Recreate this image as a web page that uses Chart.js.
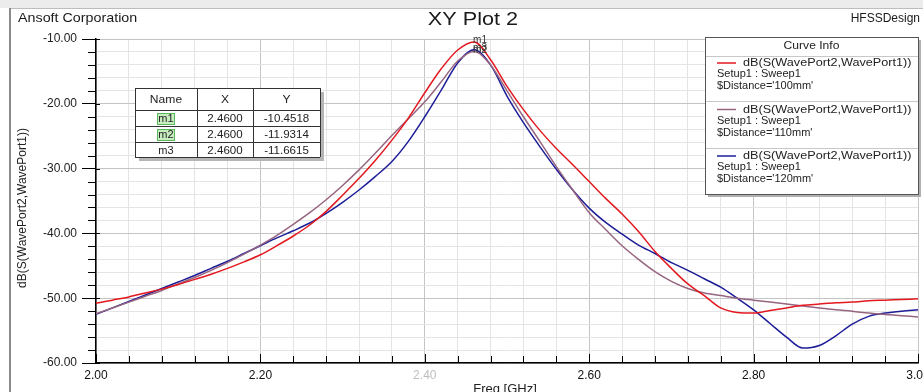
<!DOCTYPE html>
<html>
<head>
<meta charset="utf-8">
<title>XY Plot 2</title>
<script src="https://cdn.jsdelivr.net/npm/chart.js@4.4.1/dist/chart.umd.min.js"></script>
<style>
    html, body { margin: 0; padding: 0; background: #fff; }
    #main-container { position: relative; width: 923px; height: 392px; }
</style>
</head>
<body>
<div id="main-container"><canvas id="xyplot" width="923" height="392"></canvas></div>
<script>
(function () {

    "use strict";

    // Frecuencias (GHz)
    var freq = [2.00, 2.02, 2.04, 2.06, 2.08, 2.10, 2.12, 2.14, 2.16, 2.18,
        2.20, 2.22, 2.24, 2.26, 2.28, 2.30, 2.32, 2.34, 2.36, 2.38,
        2.40, 2.42, 2.44, 2.46, 2.48, 2.50, 2.52, 2.54, 2.56, 2.58,
        2.60, 2.62, 2.64, 2.66, 2.68, 2.70, 2.72, 2.74, 2.76, 2.78,
        2.80, 2.82, 2.84, 2.86, 2.88, 2.90, 2.92, 2.94, 2.96, 2.98, 3.00];

    // dB(S(WavePort2,WavePort1)) para cada distancia
    var s21_100mm = [-50.8, -50.3, -49.8, -49.2, -48.6, -47.9, -47.1, -46.3, -45.4, -44.4,
        -43.3, -41.9, -40.4, -38.7, -36.6, -34.1, -31.5, -28.7, -25.6, -22.2,
        -18.3, -14.6, -11.7, -10.45, -13.2, -17.3, -20.9, -24.1, -26.9, -29.4,
        -32.0, -34.6, -37.0, -39.7, -42.8, -45.4, -47.8, -49.6, -51.5, -52.2,
        -52.3, -51.9, -51.5, -51.1, -50.9, -50.7, -50.6, -50.4, -50.3, -50.2, -50.1];

    var s21_110mm = [-52.4, -51.5, -50.6, -49.7, -48.8, -47.8, -46.8, -45.7, -44.5, -43.2,
        -41.8, -40.3, -38.6, -36.8, -34.8, -32.6, -30.2, -27.6, -24.9, -22.3,
        -19.7, -16.6, -13.4, -11.93, -14.0, -18.0, -22.0, -25.8, -29.7, -33.3,
        -36.8, -39.4, -41.9, -44.0, -45.9, -47.4, -48.5, -49.2, -49.6, -50.0,
        -50.3, -50.6, -50.9, -51.2, -51.5, -51.8, -52.0, -52.3, -52.5, -52.7, -52.9];

    var s21_120mm = [-52.5, -51.5, -50.5, -49.5, -48.5, -47.5, -46.5, -45.4, -44.3, -43.1,
        -41.9, -40.7, -39.6, -38.4, -36.9, -35.2, -33.3, -31.2, -28.9, -25.8,
        -22.0, -17.9, -13.7, -11.66, -14.0, -18.8, -22.9, -26.6, -30.1, -33.3,
        -36.1, -38.3, -40.1, -41.8, -43.1, -44.5, -45.7, -47.0, -48.3, -50.0,
        -51.8, -53.9, -56.0, -57.7, -57.3, -55.8, -54.0, -52.8, -52.3, -52.0, -51.8];

    var distances = ['100mm', '110mm', '120mm'];
    var seriesColors = ['#e3191f', '#96657f', '#1d1d98'];

    // Etiquetas de los ejes
    var xTickLabels = ['2.00', '2.20', '2.40', '2.60', '2.80', '3.00'];
    var yTickLabels = ['-60.00', '-50.00', '-40.00', '-30.00', '-20.00', '-10.00'];

    // Marcadores
    var markerNames = ['m1', 'm2', 'm3'];
    var markerX = [2.46, 2.46, 2.46];
    var markerY = [-10.4518, -11.9314, -11.6615];

    var FONT = 'Liberation Sans, Arial, sans-serif';

    function toPoints(values) {
        return freq.map(function (f, i) { return { x: f, y: values[i] }; });
    }

    function esMayorX(v) { return xTickLabels.indexOf(v.toFixed(2)) !== -1; }
    function esMayorY(v) { return yTickLabels.indexOf(v.toFixed(2)) !== -1; }

    /**
     * Texto con estiramiento horizontal (la captura original esta ensanchada)
     */
    function stretchText(ctx, text, x, y, sx) {
        ctx.save();
        ctx.translate(x, y);
        ctx.scale(sx, 1);
        ctx.fillText(text, 0, 0);
        ctx.restore();
    }

    /**
     * Marco, textos de cabecera y titulos de ejes
     */
    var marcoPlugin = {
        id: 'marco',
        beforeDraw: function (chart) {
            var ctx = chart.ctx;
            ctx.save();
            ctx.fillStyle = '#fff';
            ctx.fillRect(0, 0, chart.width, chart.height);
            ctx.fillStyle = '#ececec';
            ctx.fillRect(0, 0, chart.width, 8);
            ctx.strokeStyle = '#bdbdbd';
            ctx.lineWidth = 1;
            ctx.beginPath();
            ctx.moveTo(10, 8.5); ctx.lineTo(chart.width, 8.5);
            ctx.stroke();
            ctx.strokeStyle = '#8a8a8a';
            ctx.lineWidth = 2;
            ctx.beginPath();
            ctx.moveTo(10, 8); ctx.lineTo(10, chart.height);
            ctx.stroke();

            ctx.fillStyle = '#1a1a1a';
            ctx.textBaseline = 'alphabetic';
            ctx.font = '13px ' + FONT;
            ctx.textAlign = 'left';
            stretchText(ctx, 'Ansoft Corporation', 18, 22, 1.1);
            ctx.textAlign = 'right';
            ctx.font = '12px ' + FONT;
            ctx.fillText('HFSSDesign', 920, 22);
            ctx.textAlign = 'center';
            ctx.font = '19px ' + FONT;
            stretchText(ctx, 'XY Plot 2', 473, 25, 1.14);
            ctx.restore();
        },
        afterDraw: function (chart) {
            var ctx = chart.ctx;
            var area = chart.chartArea;
            var xs = chart.scales.x, ys = chart.scales.y;
            ctx.save();

            // ticks menores
            ctx.strokeStyle = '#000';
            ctx.lineWidth = 1;
            ctx.beginPath();
            ys.ticks.forEach(function (t) {
                var py = Math.round(ys.getPixelForValue(t.value)) + 0.5;
                if (esMayorY(t.value)) {
                    ctx.moveTo(area.left, py);
                    ctx.lineTo(area.left + 4, py);
                } else {
                    ctx.moveTo(area.left - 8, py);
                    ctx.lineTo(area.left, py);
                }
            });
            xs.ticks.forEach(function (t) {
                var px = Math.round(xs.getPixelForValue(t.value)) + 0.5;
                ctx.moveTo(px, area.bottom);
                ctx.lineTo(px, area.bottom - (esMayorX(t.value) ? 9 : 7));
            });
            ctx.stroke();

            // titulos de ejes
            ctx.fillStyle = '#222';
            ctx.font = '12px ' + FONT;
            ctx.textAlign = 'center';
            ctx.textBaseline = 'middle';
            ctx.save();
            ctx.translate(23, 208);
            ctx.rotate(-Math.PI / 2);
            ctx.fillText('dB(S(WavePort2,WavePort1))', 0, 0);
            ctx.restore();
            ctx.font = '13px ' + FONT;
            ctx.textBaseline = 'alphabetic';
            ctx.fillText('Freq [GHz]', 505, 393);

            // etiquetas de marcadores
            ctx.font = '10px ' + FONT;
            ctx.textAlign = 'left';
            ctx.fillStyle = '#333';
            for (var i = markerNames.length - 1; i >= 0; i--) {
                ctx.fillText(markerNames[i], xs.getPixelForValue(markerX[i]) - 1, ys.getPixelForValue(markerY[i]) + 1);
            }

            drawMarkerTable(ctx);
            drawCurveInfo(ctx);
            ctx.restore();
        }
    };

    /**
     * Tabla de marcadores (Name, X, Y)
     */
    function drawMarkerTable(ctx) {
        var cols = [135, 197, 253, 320];
        var rows = [88, 110, 126, 142, 157];
        ctx.fillStyle = '#b5b5b5';
        ctx.fillRect(cols[0] + 4, rows[0] + 4, cols[3] - cols[0], rows[4] - rows[0]);
        ctx.fillStyle = '#fff';
        ctx.fillRect(cols[0], rows[0], cols[3] - cols[0], rows[4] - rows[0]);
        ctx.strokeStyle = '#333';
        ctx.lineWidth = 1;
        ctx.beginPath();
        cols.forEach(function (c) { ctx.moveTo(c + 0.5, rows[0]); ctx.lineTo(c + 0.5, rows[4]); });
        rows.forEach(function (r) { ctx.moveTo(cols[0], r + 0.5); ctx.lineTo(cols[3], r + 0.5); });
        ctx.stroke();

        ctx.font = '11px ' + FONT;
        ctx.textAlign = 'center';
        ctx.textBaseline = 'middle';
        ctx.fillStyle = '#222';
        var head = ['Name', 'X', 'Y'];
        head.forEach(function (h, c) {
            stretchText(ctx, h, (cols[c] + cols[c + 1]) / 2, (rows[0] + rows[1]) / 2 + 1, 1.1);
        });
        markerNames.forEach(function (m, r) {
            var cy = (rows[r + 1] + rows[r + 2]) / 2 + 1;
            var cx = (cols[0] + cols[1]) / 2;
            if (r < 2) {
                ctx.fillStyle = '#c6ecc0';
                ctx.fillRect(cx - 9, cy - 6, 18, 12);
                ctx.strokeStyle = '#5cb85c';
                ctx.strokeRect(cx - 8.5, cy - 5.5, 17, 11);
            }
            ctx.fillStyle = '#222';
            ctx.fillText(m, cx, cy);
            stretchText(ctx, markerX[r].toFixed(4), (cols[1] + cols[2]) / 2, cy, 1.05);
            stretchText(ctx, markerY[r].toFixed(4), (cols[2] + cols[3]) / 2, cy, 1.05);
        });
    }

    /**
     * Cuadro "Curve Info" con las tres curvas
     */
    function drawCurveInfo(ctx) {
        var left = 705, top = 37, right = 918, bottom = 194;
        ctx.fillStyle = '#b0b0b0';
        ctx.fillRect(left + 3, top + 3, right - left, bottom - top);
        ctx.fillStyle = '#fff';
        ctx.fillRect(left, top, right - left, bottom - top);
        ctx.strokeStyle = '#555';
        ctx.lineWidth = 1;
        ctx.strokeRect(left + 0.5, top + 0.5, right - left, bottom - top);

        ctx.fillStyle = '#222';
        ctx.font = '11px ' + FONT;
        ctx.textAlign = 'center';
        ctx.textBaseline = 'middle';
        stretchText(ctx, 'Curve Info', (left + right) / 2, 46, 1.1);

        ctx.strokeStyle = '#c8c8c8';
        ctx.beginPath();
        [56, 101, 148].forEach(function (y) { ctx.moveTo(left + 1, y + 0.5); ctx.lineTo(right, y + 0.5); });
        ctx.stroke();

        distances.forEach(function (d, i) {
            var y0 = 56 + i * 46.5;
            ctx.strokeStyle = seriesColors[i];
            ctx.lineWidth = 1.5;
            ctx.beginPath();
            ctx.moveTo(717, y0 + 7);
            ctx.lineTo(736, y0 + 7);
            ctx.stroke();
            ctx.fillStyle = '#222';
            ctx.textAlign = 'left';
            ctx.font = '11px ' + FONT;
            stretchText(ctx, 'dB(S(WavePort2,WavePort1))', 743, y0 + 7, 1.15);
            ctx.fillText('Setup1 : Sweep1', 717, y0 + 18);
            ctx.fillText("$Distance='" + d + "'", 717, y0 + 30);
        });
    }

    var datasets = [s21_100mm, s21_110mm, s21_120mm].map(function (vals, i) {
        return {
            label: "$Distance='" + distances[i] + "'",
            data: toPoints(vals),
            borderColor: seriesColors[i],
            backgroundColor: seriesColors[i],
            borderWidth: 1.5,
            pointRadius: 0,
            cubicInterpolationMode: 'monotone',
            fill: false
        };
    });

    new Chart(document.getElementById('xyplot').getContext('2d'), {
        type: 'line',
        data: { datasets: datasets },
        options: {
            responsive: false,
            animation: false,
            devicePixelRatio: 1,
            layout: { padding: { top: 39, right: 5, bottom: 0, left: 0 } },
            plugins: {
                legend: { display: false },
                title: { display: false },
                tooltip: { enabled: false }
            },
            scales: {
                x: {
                    type: 'linear',
                    min: 2,
                    max: 3,
                    afterFit: function (s) { s.height = 29; s.paddingLeft = 0; s.paddingRight = 0; },
                    border: { color: '#000', width: 1.5 },
                    grid: {
                        drawTicks: false,
                        color: function (c) { return c.tick && esMayorX(c.tick.value) ? '#c4c4c4' : '#e4e4e4'; }
                    },
                    ticks: {
                        stepSize: 0.04,
                        autoSkip: false,
                        maxRotation: 0,
                        padding: 5,
                        font: { family: FONT, size: 12 },
                        color: function (c) { return c.tick && c.tick.value.toFixed(2) === '2.40' ? '#bdbdbd' : '#111'; },
                        callback: function (v) { return esMayorX(v) ? v.toFixed(2) : ''; }
                    }
                },
                y: {
                    min: -60,
                    max: -10,
                    afterFit: function (s) { s.width = 96; },
                    border: { color: '#000', width: 1.5 },
                    grid: {
                        drawTicks: true,
                        tickLength: 14,
                        tickColor: function (c) { return c.tick && esMayorY(c.tick.value) ? '#000' : 'rgba(0,0,0,0)'; },
                        color: function (c) { return c.tick && esMayorY(c.tick.value) ? '#c4c4c4' : '#e4e4e4'; }
                    },
                    ticks: {
                        stepSize: 2,
                        autoSkip: false,
                        padding: 5,
                        font: { family: FONT, size: 12 },
                        color: '#222',
                        callback: function (v) { return esMayorY(v) ? v.toFixed(2) : ''; }
                    }
                }
            }
        },
        plugins: [marcoPlugin]
    });

})();
</script>
</body>
</html>
